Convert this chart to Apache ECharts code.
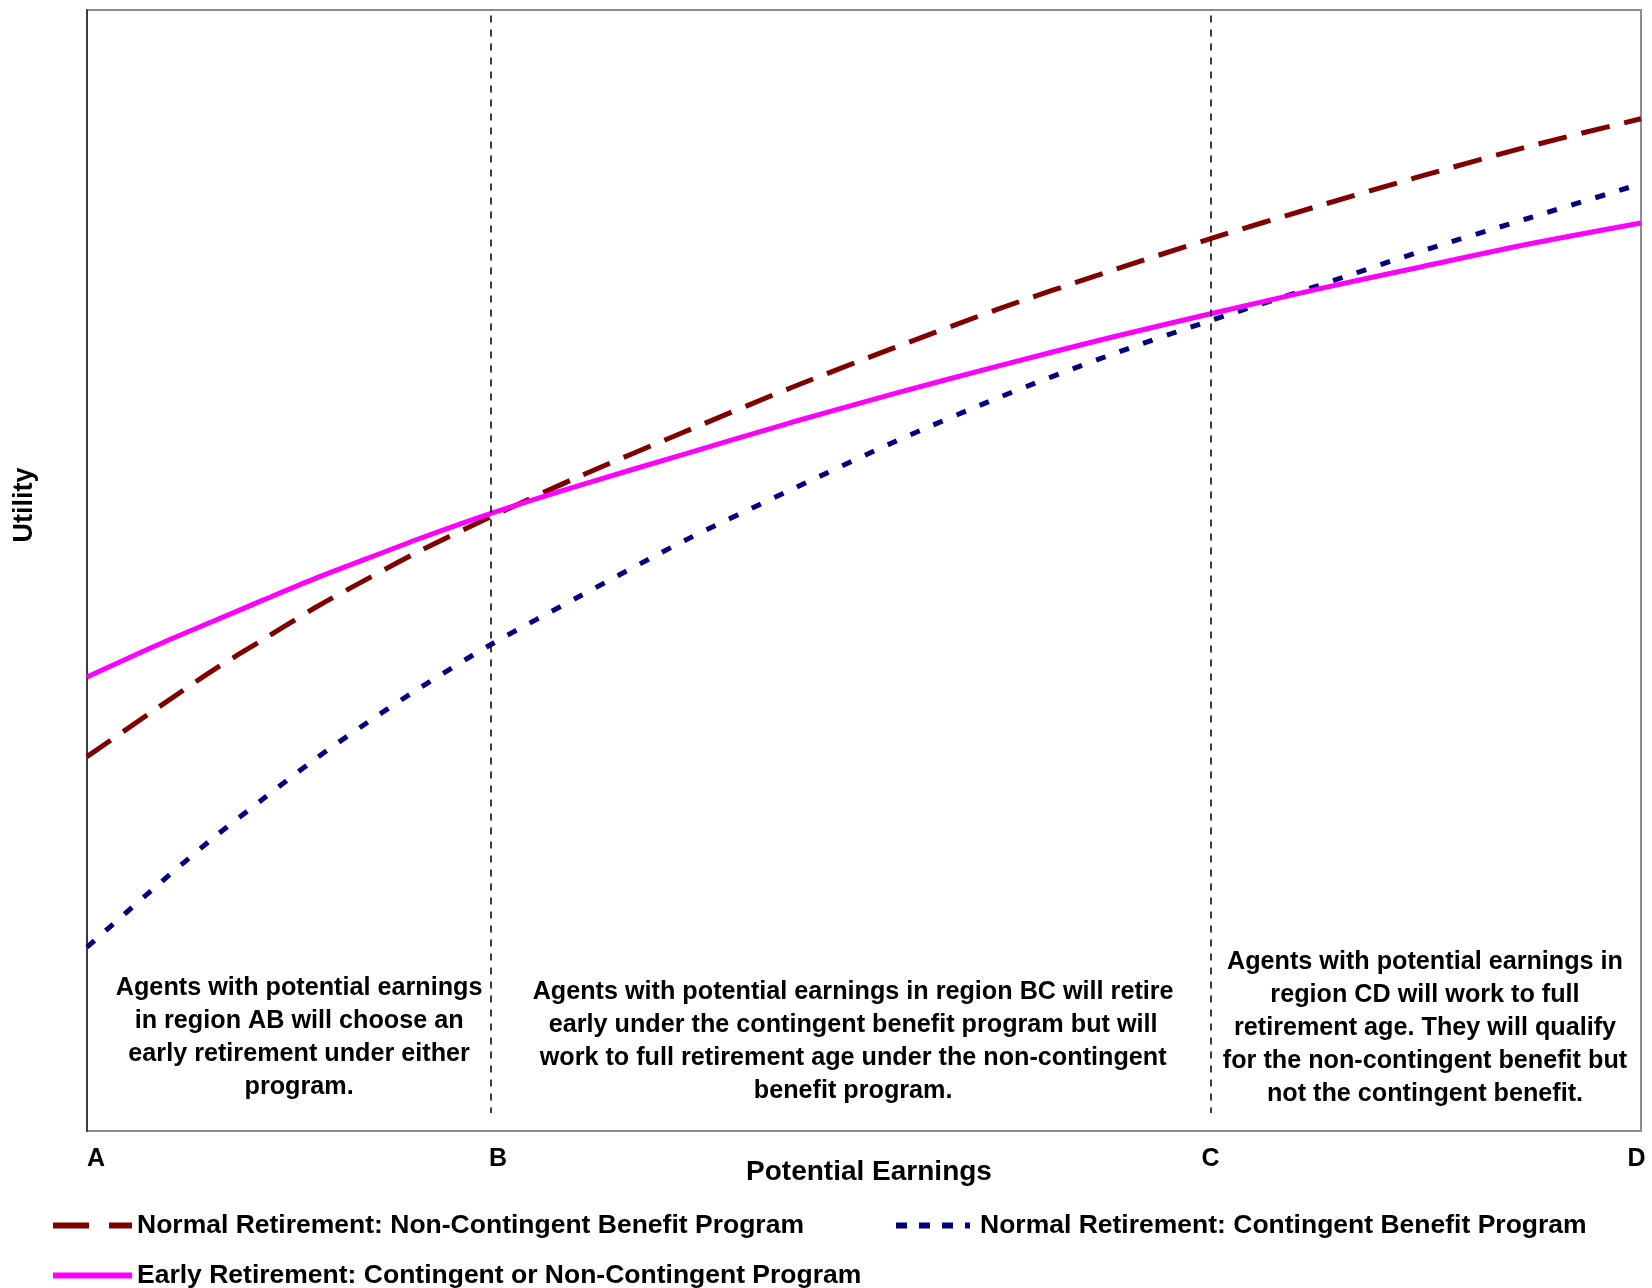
<!DOCTYPE html>
<html>
<head>
<meta charset="utf-8">
<script src="https://cdn.jsdelivr.net/npm/echarts@6/dist/echarts.min.js"></script>
<style>
html,body{margin:0;padding:0;background:#fff;}
#chart{width:1652px;height:1288px;}
</style>
</head>
<body>
<div id="chart"></div>
<script>
// Potential earnings positions (0 = A, 100 = D)
const xValues = [0, 4.6, 8, 11.4, 14.7, 18.1, 21.5, 26, 31.7, 38.5, 45.3, 52, 58.8, 65.6, 72.3, 79.2, 85.9, 92.7, 100];
// Utility values (0 = bottom of plot, 100 = top)
const normalNonContingent = [33.4, 37.8, 41.0, 43.9, 46.7, 49.3, 51.8, 54.8, 58.4, 62.4, 66.3, 69.9, 73.4, 76.6, 79.6, 82.5, 85.2, 87.8, 90.3];
const normalContingent = [16.4, 22.0, 26.0, 29.7, 33.2, 36.5, 39.6, 43.4, 47.7, 52.7, 57.2, 61.5, 65.5, 69.1, 72.3, 75.4, 78.5, 81.4, 84.5];
const earlyRetirement = [40.5, 43.4, 45.4, 47.4, 49.3, 51.1, 52.9, 55.1, 57.6, 60.4, 63.2, 65.8, 68.3, 70.7, 72.9, 75.1, 77.1, 79.1, 81.0];
// Region boundary ticks
const regionTicks = [0, 26, 72.3, 100];
const regionLabels = ['A', 'B', 'C', 'D'];
// Series names
const seriesNames = [
  'Normal Retirement: Non-Contingent Benefit Program',
  'Normal Retirement: Contingent Benefit Program',
  'Early Retirement: Contingent or Non-Contingent Program'
];
// Region annotations
const regionTexts = [
  'Agents with potential earnings\nin region AB will choose an\nearly retirement under either\nprogram.',
  'Agents with potential earnings in region BC will retire\nearly under the contingent benefit program but will\nwork to full retirement age under the non-contingent\nbenefit program.',
  'Agents with potential earnings in\nregion CD will work to full\nretirement age. They will qualify\nfor the non-contingent benefit but\nnot the contingent benefit.'
];
const axisTitleX = 'Potential Earnings';
const axisTitleY = 'Utility';

// layout (not data)
const annotationPos = [[13.65, 8.37], [49.3, 8.0], [86.1, 9.17]];
const FONT = '"Liberation Sans", Arial, Helvetica, sans-serif';

const toPairs = ys => ys.map((y, i) => [xValues[i], y]);

const chart = echarts.init(document.getElementById('chart'), null, {renderer: 'canvas'});

const labelRich = {
  a: {fontSize: 25, fontWeight: 'bold', fontFamily: FONT, color: '#000'},
  b: {fontSize: 25, fontWeight: 'bold', fontFamily: FONT, color: '#000', padding: [0, 0, 0, 14]},
  c: {fontSize: 25, fontWeight: 'bold', fontFamily: FONT, color: '#000'},
  d: {fontSize: 25, fontWeight: 'bold', fontFamily: FONT, color: '#000', padding: [0, 9, 0, 0]}
};

const legendText = {fontSize: 26.5, fontWeight: 'bold', fontFamily: FONT, color: '#000'};

const option = {
  animation: false,
  backgroundColor: '#fff',
  grid: {
    left: 87, right: 11, top: 10, bottom: 157,
    show: true, borderColor: '#8c8c8c', borderWidth: 2,
    containLabel: false, outerBoundsMode: 'none'
  },
  xAxis: {
    type: 'value', min: 0, max: 100,
    splitLine: {show: false},
    axisTick: {show: false},
    axisLine: {show: false},
    axisLabel: {
      show: true,
      customValues: regionTicks,
      margin: 16,
      alignMinLabel: 'left',
      formatter: v => {
        const i = regionTicks.indexOf(v);
        if (i < 0) return '';
        const k = regionLabels[i].toLowerCase();
        return '{' + k + '|' + regionLabels[i] + '}';
      },
      rich: labelRich
    },
    name: axisTitleX,
    nameLocation: 'middle',
    nameGap: 27,
    nameMoveOverlap: false,
    nameTextStyle: {fontSize: 28, fontWeight: 'bold', fontFamily: FONT, color: '#000', padding: [0, 0, 0, 10]}
  },
  yAxis: {
    type: 'value', min: 0, max: 100,
    splitLine: {show: false},
    axisTick: {show: false},
    axisLabel: {show: false},
    axisLine: {show: true, lineStyle: {color: '#3c3c3c', width: 2}}
  },
  graphic: [{
    type: 'text', x: 25, y: 505, rotation: Math.PI / 2,
    style: {text: axisTitleY, fill: '#000', font: 'bold 27px ' + FONT, textAlign: 'center', textVerticalAlign: 'middle'}
  }],
  legend: [
    {
      left: 45, top: 1207, orient: 'horizontal', itemWidth: 79, itemHeight: 26,
      textStyle: legendText, selectedMode: false,
      data: [{name: seriesNames[0], itemStyle: {opacity: 0}, lineStyle: {type: [36, 20], width: 6, color: '#800000'}}]
    },
    {
      left: 888, top: 1207, orient: 'horizontal', itemWidth: 74, itemHeight: 26,
      textStyle: Object.assign({}, legendText, {padding: [0, 0, 0, 5]}), selectedMode: false,
      data: [{name: seriesNames[1], itemStyle: {opacity: 0}, lineStyle: {type: [11, 12], width: 6, color: '#000080'}}]
    },
    {
      left: 45, top: 1257, orient: 'horizontal', itemWidth: 79, itemHeight: 26,
      textStyle: legendText, selectedMode: false,
      data: [{name: seriesNames[2], itemStyle: {opacity: 0}, lineStyle: {type: 'solid', width: 6, color: '#ff00ff'}}]
    }
  ],
  series: [
    {
      name: seriesNames[0], type: 'line', data: toPairs(normalNonContingent),
      smooth: 0.3, symbol: 'none', z: 3,
      lineStyle: {color: '#800000', width: 5, type: [29, 15]},
      itemStyle: {color: '#800000'},
      markLine: {
        silent: true, symbol: ['none', 'none'], label: {show: false},
        lineStyle: {color: '#000', width: 1.5, type: [7, 7]},
        data: [
          [{coord: [regionTicks[1], 99.5]}, {coord: [regionTicks[1], 1.6]}],
          [{coord: [regionTicks[2], 99.5]}, {coord: [regionTicks[2], 1.6]}]
        ]
      },
      markPoint: {
        silent: true, symbol: 'rect', symbolSize: 1,
        itemStyle: {color: 'rgba(0,0,0,0)'},
        label: {
          show: true, position: 'inside', color: '#000', fontSize: 25.2, fontWeight: 'bold',
          fontFamily: FONT, lineHeight: 33, align: 'center', verticalAlign: 'middle',
          formatter: p => p.data.text
        },
        data: regionTexts.map((t, i) => ({coord: annotationPos[i], text: t}))
      }
    },
    {
      name: seriesNames[1], type: 'line', data: toPairs(normalContingent),
      smooth: 0.3, symbol: 'none', z: 2,
      lineStyle: {color: '#000080', width: 5, type: [10, 15]},
      itemStyle: {color: '#000080'}
    },
    {
      name: seriesNames[2], type: 'line', data: toPairs(earlyRetirement),
      smooth: 0.3, symbol: 'none', z: 4,
      lineStyle: {color: '#ff00ff', width: 5, type: 'solid'},
      itemStyle: {color: '#ff00ff'}
    }
  ]
};
chart.setOption(option);
</script>
</body>
</html>
